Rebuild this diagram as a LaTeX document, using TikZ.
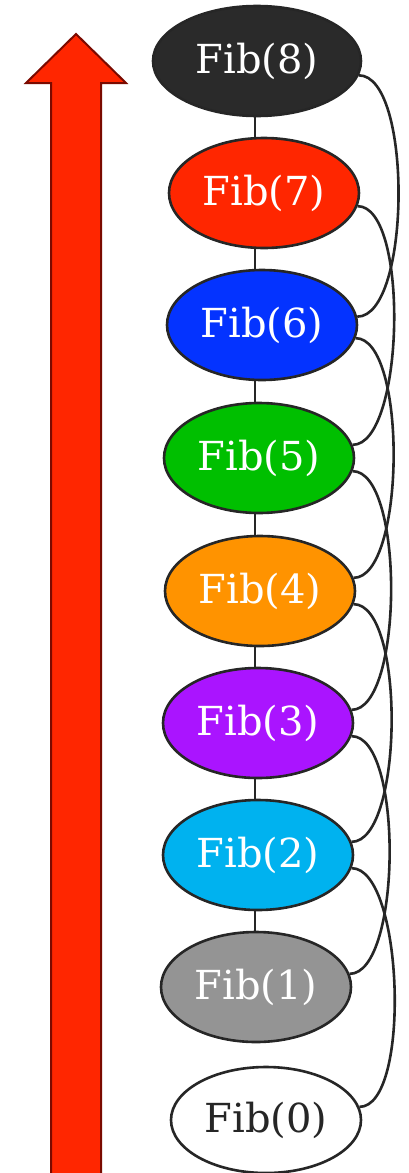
\documentclass[tikz,border=0pt]{standalone}
\usepackage{fontspec}
\IfFontExistsTF{DejaVu Serif}{\setmainfont{DejaVu Serif}}{%
  \IfFontExistsTF{DejaVuSerif.ttf}{\setmainfont{DejaVuSerif.ttf}}{\setmainfont{Liberation Serif}}}
\usetikzlibrary{shapes.geometric}
\definecolor{edgec}{HTML}{262626}
\definecolor{c8}{HTML}{2A2A2A}
\definecolor{c7}{HTML}{FF2600}
\definecolor{c6}{HTML}{0433FF}
\definecolor{c5}{HTML}{00BF00}
\definecolor{c4}{HTML}{FF9300}
\definecolor{c3}{HTML}{AA14FF}
\definecolor{c2}{HTML}{00B2EF}
\definecolor{c1}{HTML}{949494}
\definecolor{arrowfill}{HTML}{FF2600}
\definecolor{arrowline}{HTML}{7A0A00}
\tikzset{
  fib/.style={ellipse, draw=edgec, line width=2.6pt, inner sep=0pt,
    minimum width=190pt, minimum height=110pt, text=white,
    font=\fontsize{40}{40}\selectfont},
  link/.style={draw=edgec, line width=2.6pt},
  skip/.style={draw=edgec, line width=2.6pt},
}
\begin{document}
\begin{tikzpicture}[x=1pt,y=-1pt]
\useasboundingbox (0,0) rectangle (408,1173);
% big arrow
\fill[arrowfill, draw=arrowline, line width=2pt, line join=miter]
  (76,34) -- (126,83) -- (101,83) -- (101,1180) -- (51,1180) -- (51,83) -- (26,83) -- cycle;
% nodes
\node[fib, fill=c8, minimum width=208pt] (n8) at (257,61) {Fib(8)};
\node[fib, fill=c7] (n7) at (264,193) {Fib(7)};
\node[fib, fill=c6] (n6) at (262,325) {Fib(6)};
\node[fib, fill=c5] (n5) at (259,458) {Fib(5)};
\node[fib, fill=c4] (n4) at (260,591) {Fib(4)};
\node[fib, fill=c3] (n3) at (258,723) {Fib(3)};
\node[fib, fill=c2] (n2) at (258,855) {Fib(2)};
\node[fib, fill=c1] (n1) at (256,987) {Fib(1)};
\node[fib, fill=white, text=edgec, minimum height=106pt] (n0) at (266,1120) {Fib(0)};
% vertical links
\coordinate (vx) at (255,0);
\foreach \a/\b in {n8/n7,n7/n6,n6/n5,n5/n4,n4/n3,n3/n2,n2/n1} {
  \draw[link] (\a.south -| vx) -- (\b.north -| vx);
}
% skip curves
\draw[skip] (n8.-8) .. controls +(54,0) and +(54,0) .. (n6.5);
\foreach \a/\b in {n7/n5,n6/n4,n5/n3,n4/n2,n3/n1,n2/n0} {
  \draw[skip] (\a.-8) .. controls +(52,0) and +(52,0) .. (\b.8);
}
\end{tikzpicture}
\end{document}
